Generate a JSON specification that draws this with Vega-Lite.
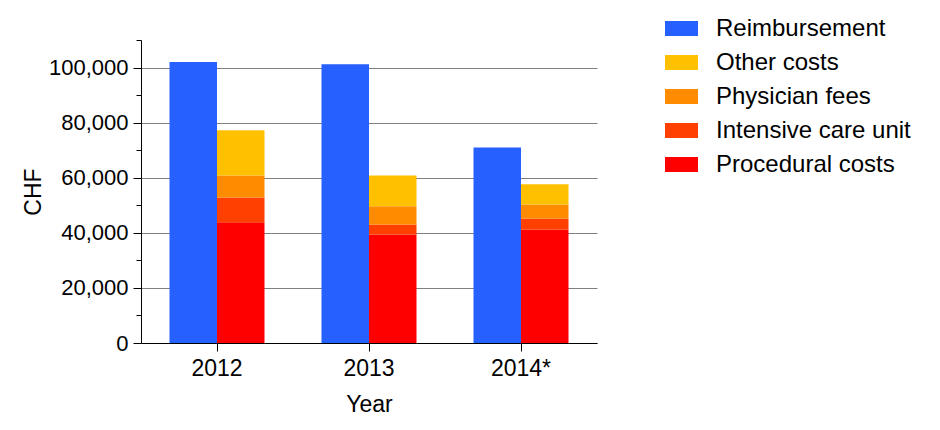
{
  "$schema": "https://vega.github.io/schema/vega-lite/v6.json",
  "width": 456,
  "height": 303,
  "autosize": {"type": "none"},
  "padding": {"left": 141, "top": 40, "right": 343, "bottom": 87},
  "config": {"view": {"stroke": null}, "font": "Liberation Sans"},
  "data": {
    "values": [
      {"year": "2012", "bar": "Reimbursement", "category": "Reimbursement", "value": 102000, "stack": 0},
      {"year": "2012", "bar": "Costs", "category": "Procedural costs", "value": 43800, "stack": 1},
      {"year": "2012", "bar": "Costs", "category": "Intensive care unit", "value": 9000, "stack": 2},
      {"year": "2012", "bar": "Costs", "category": "Physician fees", "value": 8000, "stack": 3},
      {"year": "2012", "bar": "Costs", "category": "Other costs", "value": 16400, "stack": 4},
      {"year": "2013", "bar": "Reimbursement", "category": "Reimbursement", "value": 101200, "stack": 0},
      {"year": "2013", "bar": "Costs", "category": "Procedural costs", "value": 39400, "stack": 1},
      {"year": "2013", "bar": "Costs", "category": "Intensive care unit", "value": 3600, "stack": 2},
      {"year": "2013", "bar": "Costs", "category": "Physician fees", "value": 6600, "stack": 3},
      {"year": "2013", "bar": "Costs", "category": "Other costs", "value": 11200, "stack": 4},
      {"year": "2014*", "bar": "Reimbursement", "category": "Reimbursement", "value": 71000, "stack": 0},
      {"year": "2014*", "bar": "Costs", "category": "Procedural costs", "value": 41200, "stack": 1},
      {"year": "2014*", "bar": "Costs", "category": "Intensive care unit", "value": 4000, "stack": 2},
      {"year": "2014*", "bar": "Costs", "category": "Physician fees", "value": 5100, "stack": 3},
      {"year": "2014*", "bar": "Costs", "category": "Other costs", "value": 7300, "stack": 4}
    ]
  },
  "mark": {"type": "bar"},
  "encoding": {
    "x": {
      "field": "year",
      "type": "nominal",
      "scale": {"paddingInner": 0.375, "paddingOuter": 0.1875},
      "axis": {
        "title": "Year",
        "labelAngle": 0,
        "labelFontSize": 23,
        "labelColor": "black",
        "labelPadding": 6,
        "tickSize": 8,
        "tickColor": "black",
        "domainColor": "black",
        "grid": false,
        "titleFontSize": 23,
        "titleFontWeight": "normal",
        "titleColor": "black",
        "titlePadding": 13
      }
    },
    "xOffset": {
      "field": "bar",
      "type": "nominal",
      "sort": ["Reimbursement", "Costs"],
      "scale": {"paddingInner": 0, "paddingOuter": 0}
    },
    "y": {
      "field": "value",
      "type": "quantitative",
      "stack": "zero",
      "scale": {"domain": [0, 110000], "nice": false},
      "axis": {
        "title": "CHF",
        "values": [0, 10000, 20000, 30000, 40000, 50000, 60000, 70000, 80000, 90000, 100000, 110000],
        "labelExpr": "datum.value % 20000 === 0 && datum.value <= 100000 ? format(datum.value, ',') : ''",
        "labelFontSize": 22,
        "labelColor": "black",
        "labelPadding": 5,
        "tickSize": {"condition": {"test": "datum.value % 20000 === 0", "value": 8}, "value": 5},
        "tickColor": "black",
        "domainColor": "black",
        "grid": true,
        "gridColor": "#808080",
        "gridOpacity": {"condition": {"test": "datum.value % 20000 === 0 && datum.value <= 100000", "value": 1}, "value": 0},
        "titleFontSize": 23,
        "titleFontWeight": "normal",
        "titleColor": "black",
        "titleX": -108,
        "titleBaseline": "middle"
      }
    },
    "color": {
      "field": "category",
      "type": "nominal",
      "scale": {
        "domain": ["Reimbursement", "Other costs", "Physician fees", "Intensive care unit", "Procedural costs"],
        "range": ["#2660FF", "#FFC000", "#FF8C00", "#FF4000", "#FF0000"]
      },
      "legend": {
        "title": null,
        "orient": "none",
        "legendX": 524,
        "legendY": -28,
        "symbolType": "M-1,-0.4545L1,-0.4545L1,0.4545L-1,0.4545Z",
        "symbolSize": 1089,
        "symbolStrokeWidth": 0,
        "symbolOpacity": 1,
        "labelFontSize": 24,
        "labelColor": "black",
        "labelOffset": 18,
        "rowPadding": 5,
        "labelLimit": 400
      }
    },
    "order": {"field": "stack", "type": "quantitative"}
  }
}
